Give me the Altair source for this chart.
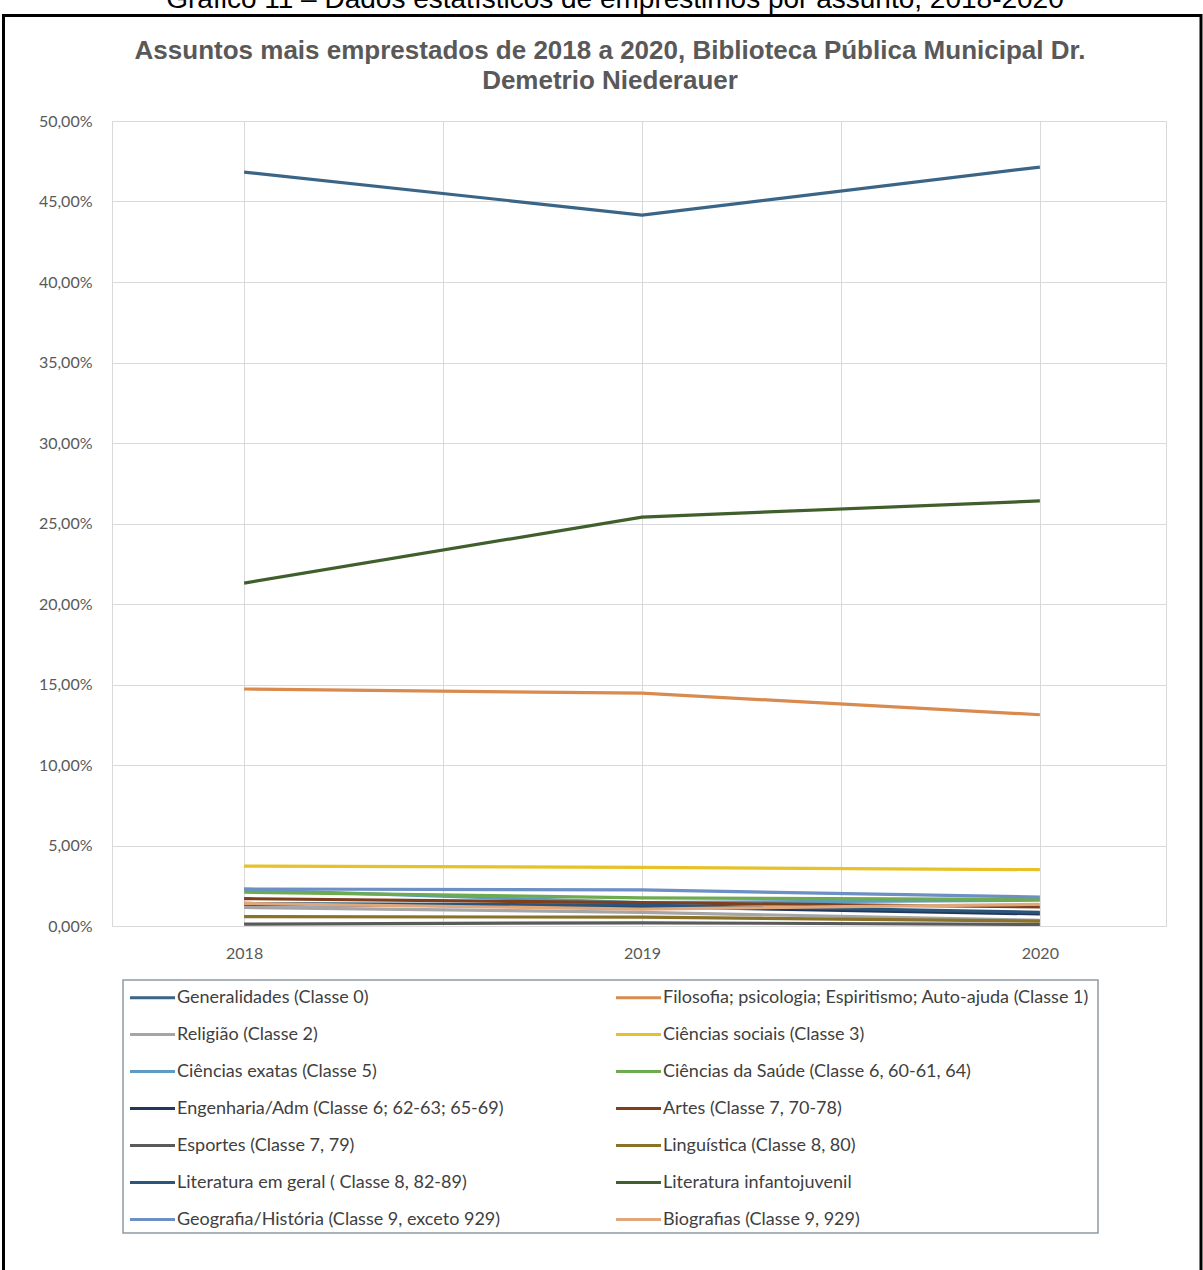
import altair as alt
import pandas as pd

# ---------------- data ----------------
years = [2018, 2019, 2020]

series_names = [
    "Generalidades (Classe 0)",
    "Filosofia; psicologia; Espiritismo; Auto-ajuda (Classe 1)",
    "Religião (Classe 2)",
    "Ciências sociais (Classe 3)",
    "Ciências exatas (Classe 5)",
    "Ciências da Saúde (Classe 6, 60-61, 64)",
    "Engenharia/Adm (Classe 6; 62-63; 65-69)",
    "Artes (Classe 7, 70-78)",
    "Esportes (Classe 7, 79)",
    "Linguística (Classe 8, 80)",
    "Literatura em geral ( Classe 8, 82-89)",
    "Literatura infantojuvenil",
    "Geografia/História (Classe 9, exceto 929)",
    "Biografias (Classe 9, 929)",
]

generalidades = [46.83, 44.16, 47.14]
filosofia = [14.72, 14.46, 13.12]
religiao = [1.15, 0.85, 0.35]
ciencias_sociais = [3.72, 3.64, 3.50]
ciencias_exatas = [2.25, 1.45, 1.60]
ciencias_saude = [2.10, 1.75, 1.65]
engenharia = [1.35, 1.20, 0.75]
artes = [1.70, 1.45, 1.18]
esportes = [0.12, 0.20, 0.10]
linguistica = [0.58, 0.55, 0.30]
literatura_geral = [1.40, 1.30, 0.85]
literatura_infantojuvenil = [21.30, 25.40, 26.40]
geografia_historia = [2.30, 2.24, 1.80]
biografias = [1.40, 1.05, 1.35]

series_values = [
    generalidades, filosofia, religiao, ciencias_sociais, ciencias_exatas,
    ciencias_saude, engenharia, artes, esportes, linguistica,
    literatura_geral, literatura_infantojuvenil, geografia_historia, biografias,
]

series_colors = [
    "#3A6587", "#D98A4E", "#A5A5A5", "#E6C229", "#5E9BC2", "#6EAA4F",
    "#22385A", "#7E3F1C", "#5A5A5A", "#8A7228", "#2B557A", "#405F2C",
    "#6C8FC4", "#E0A77C",
]

y_ticks = [0, 5, 10, 15, 20, 25, 30, 35, 40, 45, 50]
x_grid = [2018, 2018.5, 2019, 2019.5, 2020]

title_line1 = "Assuntos mais emprestados de 2018 a 2020, Biblioteca Pública Municipal Dr."
title_line2 = "Demetrio Niederauer"
caption = "Gráfico 11 – Dados estatísticos de empréstimos por assunto, 2018-2020"

# ---------------- table ----------------
rows = []
for i, (name, vals) in enumerate(zip(series_names, series_values)):
    for yr, v in zip(years, vals):
        rows.append({"Assunto": name, "Ano": yr, "Percentual": v, "ordem": i})
df = pd.DataFrame(rows)

# legend is laid out column by column: left column = even entries, right = odd
legend_order = series_names[0::2] + series_names[1::2]
legend_colors = series_colors[0::2] + series_colors[1::2]

one = pd.DataFrame({"k": [0]})

W, H = 1054, 805
PAD_L, PAD_T = 112, 121

lines = alt.Chart(df).mark_line(strokeWidth=3.2).encode(
    x=alt.X(
        "Ano:Q",
        scale=alt.Scale(domain=[2017.668, 2020.317], nice=False, zero=False),
        axis=alt.Axis(
            values=x_grid,
            labelExpr="datum.value % 1 == 0 ? toString(datum.value) : ''",
            title=None, grid=True, gridColor="#D9D9D9", domain=False, ticks=False,
            labelPadding=19, labelFontSize=16, labelColor="#595959", labelFont="Lato",
        ),
    ),
    y=alt.Y(
        "Percentual:Q",
        scale=alt.Scale(domain=[0, 50], nice=False),
        axis=alt.Axis(
            values=y_ticks,
            labelExpr="replace(format(datum.value, '.2f'), '.', ',') + '%'",
            title=None, grid=True, gridColor="#D9D9D9", domain=False, ticks=False,
            labelPadding=20, labelFontSize=16, labelColor="#595959", labelFont="Lato",
        ),
    ),
    color=alt.Color(
        "Assunto:N",
        scale=alt.Scale(domain=legend_order, range=legend_colors),
        sort=legend_order,
        legend=alt.Legend(
            title=None, orient="none", legendX=24, legendY=860, columns=2,
            columnPadding=106, rowPadding=11,
            symbolType="M-1.5,0H1.5", symbolSize=900, symbolStrokeWidth=3,
            labelFont="Lato", labelFontSize=18, labelColor="#404040",
            labelOffset=8, labelLimit=800,
        ),
    ),
    order=alt.Order("Ano:Q"),
)

legend_box = alt.Chart(one).mark_rect(
    fill="transparent", stroke="#8E9AA6", strokeWidth=1.5
).encode(
    x=alt.value(123 - PAD_L), x2=alt.value(1098 - PAD_L),
    y=alt.value(980 - PAD_T), y2=alt.value(1233 - PAD_T),
)

frame = alt.Chart(one).mark_rect(
    fill="transparent", stroke="black", strokeWidth=3
).encode(
    x=alt.value(3.5 - PAD_L), x2=alt.value(1201 - PAD_L),
    y=alt.value(15.5 - PAD_T), y2=alt.value(1290 - PAD_T),
)

cap = alt.Chart(one).mark_text(
    text=caption, font="Liberation Sans", fontSize=28, color="black",
    align="center", baseline="alphabetic",
).encode(x=alt.value(615 - PAD_L), y=alt.value(8 - PAD_T))

t1 = alt.Chart(one).mark_text(
    text=title_line1, font="Liberation Sans", fontSize=26, fontWeight="bold",
    color="#595959", align="center", baseline="alphabetic",
).encode(x=alt.value(610 - PAD_L), y=alt.value(59 - PAD_T))

t2 = alt.Chart(one).mark_text(
    text=title_line2, font="Liberation Sans", fontSize=26, fontWeight="bold",
    color="#595959", align="center", baseline="alphabetic",
).encode(x=alt.value(610 - PAD_L), y=alt.value(89 - PAD_T))

chart = alt.layer(frame, cap, t1, t2, lines, legend_box).properties(
    width=W, height=H,
    autosize=alt.AutoSizeParams(type="none"),
    padding={"left": PAD_L, "top": PAD_T, "right": 1203 - PAD_L - W, "bottom": 1270 - PAD_T - H},
).configure_view(stroke="#D9D9D9", strokeWidth=1)

chart.save("out.html", embed_options={"renderer": "svg", "actions": False})
